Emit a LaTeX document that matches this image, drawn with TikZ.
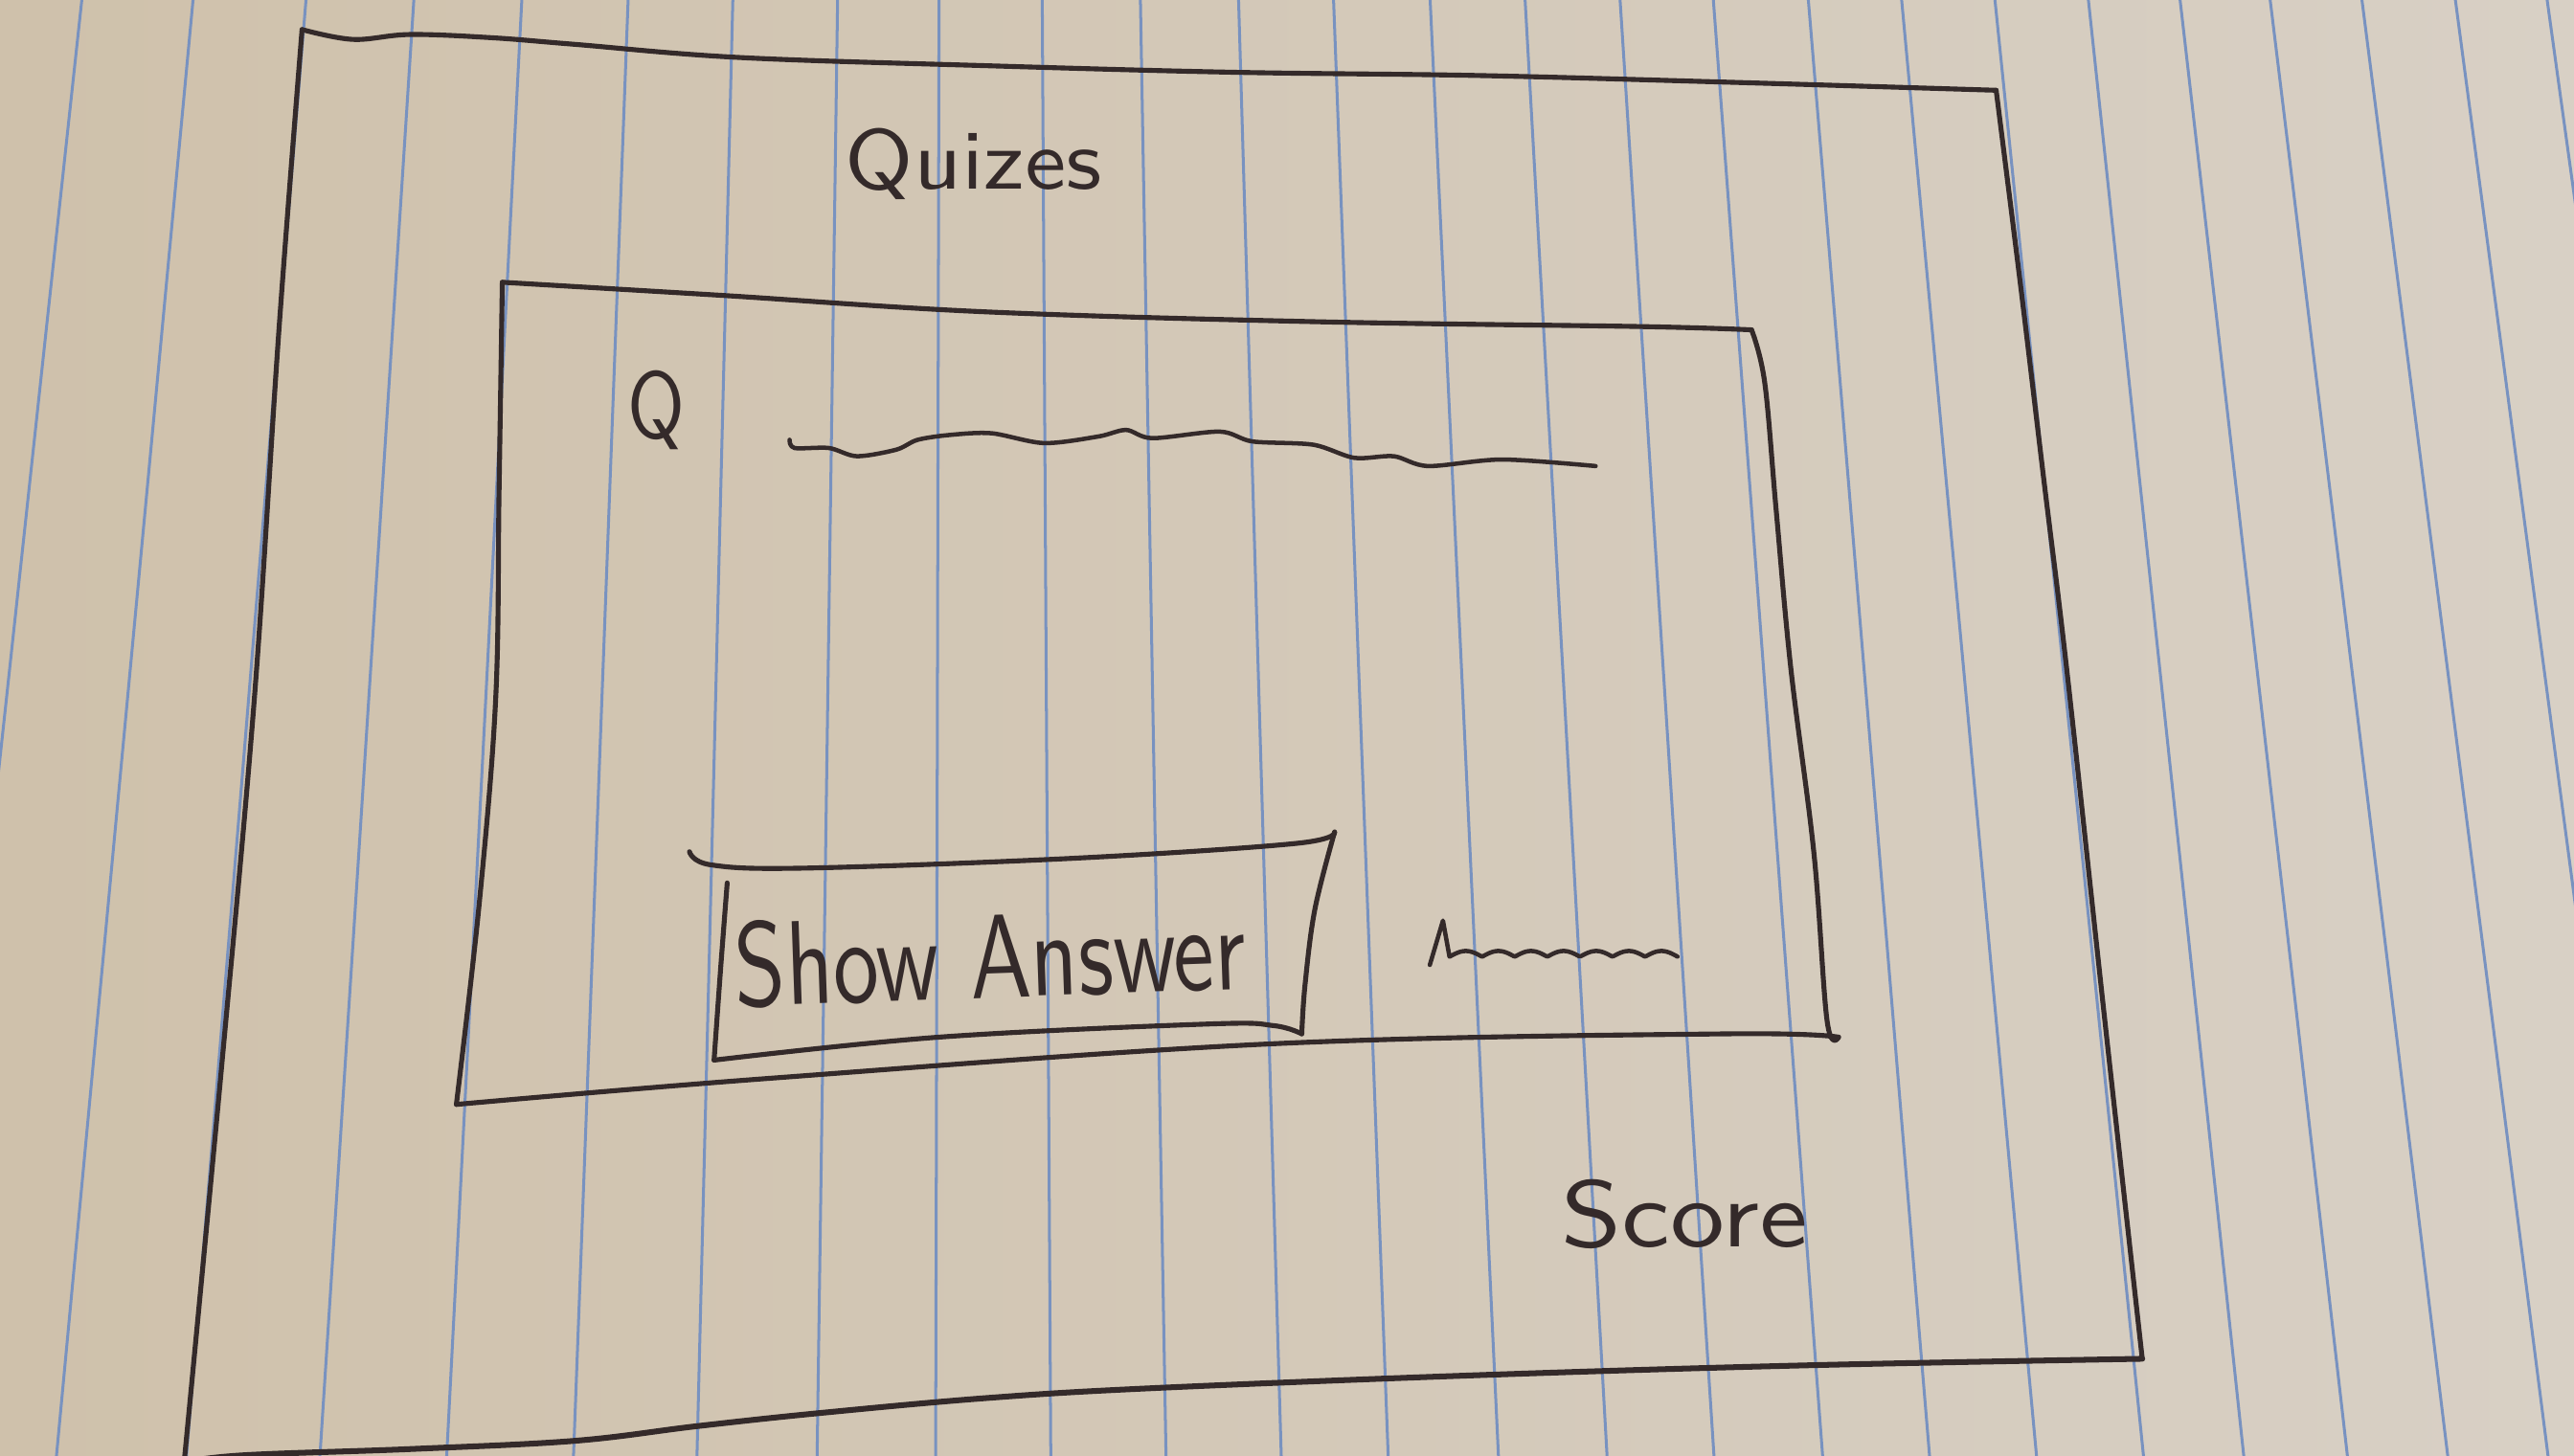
\documentclass[tikz,border=0pt]{standalone}
\usepackage{fontspec}
\definecolor{paperL}{RGB}{207,193,171}
\definecolor{paperR}{RGB}{216,208,197}
\definecolor{ruling}{RGB}{120,146,192}
\definecolor{ink}{RGB}{52,42,42}
\newcommand{\handtext}[3]{\resizebox{#1}{#2}{#3}}
\begin{document}
\begin{tikzpicture}[x=0.01cm,y=-0.01cm,
  pen/.style={draw=ink, line width=0.85pt, line cap=round, line join=round},
  ruleline/.style={draw=ruling, line width=0.5pt, shorten <=-1cm, shorten >=-1cm},
  hand/.style={text=ink, inner sep=0pt, font=\sffamily}]

% sheet of ruled paper
\useasboundingbox (0,0) rectangle (1568,887);
\clip (0,0) rectangle (1568,887);
\shade[left color=paperL, right color=paperR] (0,0) rectangle (1568,887);
\foreach \t/\b in {48/-44, 116/36, 185/115, 251/196, 317/273, 382/350,
                   446/425, 510/498, 572/570, 635/640, 695/710, 755/780,
                   813/845, 872/912, 930/978, 988/1043, 1045/1109,
                   1103/1174, 1160/1239, 1217/1304, 1274/1365, 1330/1428,
                   1385/1489, 1441/1550, 1498/1611, 1554/1672}
  \draw[ruleline] (\t,17) -- (\b,870);

% page frame
\coordinate (pTL) at (184,18);
\coordinate (pTR) at (1216,55);
\coordinate (pBR) at (1305,828);
\draw[pen] plot[smooth, tension=0.6] coordinates {(pTL) (215,24) (250,21) (300,23) (350,27) (450,35) (600,40) (750,44) (900,46) (1050,50) (pTR)};
\draw[pen] plot[smooth, tension=0.6] coordinates {(pTR) (1231,175) (1245,292) (1259,408) (1282,620) (pBR)};
\draw[pen, line width=1pt] plot[smooth, tension=0.6] coordinates {(pBR) (1100,832) (900,838) (700,846) (600,852) (500,861) (425,869) (350,878) (250,883) (145,887) (100,893)};
\draw[pen] plot[smooth, tension=0.6] coordinates {(pTL) (170,200) (155,425) (135,650) (112,893)};

% title
\node[hand, anchor=base] (title) at (593,115) {\handtext{1.56cm}{0.37cm}{Quizes}};

% question card
\coordinate (cTL) at (306,172);
\coordinate (cTR) at (1067,201);
\coordinate (cBR) at (1120,632);
\coordinate (cBL) at (278,673);
\draw[pen] plot[smooth, tension=0.6] coordinates {(cTL) (440,180) (600,190) (800,196) (1000,199) (cTR)};
\draw[pen] plot[smooth, tension=0.6] coordinates {(cTR) (1075,233) (1082,311) (1091,408) (1105,520) (1113,622) (cBR)};
\draw[pen] plot[smooth, tension=0.6] coordinates {(cBL) (470,657) (776,636) (1050,630) (cBR)};
\draw[pen] plot[smooth, tension=0.6] coordinates {(cTL) (304,300) (302,425) (292,550) (cBL)};

% question mark and placeholder line for the question text
\node[hand, anchor=base] (qmark) at (400,267) {\handtext{0.35cm}{0.41cm}{Q}};
\draw[pen, line width=0.75pt] plot[smooth, tension=0.5] coordinates {(481,268) (484,273) (505,273) (522,278) (546,274) (559,268) (579,265) (604,264) (636,270) (669,266) (686,262) (702,267) (743,263) (763,269) (800,271) (825,279) (849,278) (870,284) (915,280) (972,284)};

% "Show Answer" button
\coordinate (bTR) at (813,507);
\coordinate (bBR) at (793,630);
\coordinate (bBL) at (435,646);
\draw[pen] plot[smooth, tension=0.6] coordinates {(420,519) (433,527) (490,529) (654,523) (789,514) (bTR)};
\draw[pen] plot[smooth, tension=0.6] coordinates {(bTR) (801,554) (795,600) (bBR)};
\draw[pen] plot[smooth, tension=0.6] coordinates {(bBR) (776,625) (736,624) (572,632) (bBL)};
\draw[pen] plot[smooth, tension=0.6] coordinates {(443,538) (439,590) (bBL)};
\node[hand, anchor=base, rotate=2] (btnlabel) at (604,608) {\handtext{3.11cm}{0.52cm}{Show Answer}};

% placeholder for the answer text
\coordinate (aStart) at (871,588);
\draw[pen, line width=0.75pt] (aStart) -- (879,561) -- (883,583)
  -- plot[domain=0:1, samples=140] ({883+139*\x},{583-3.5*abs(sin(7*180*\x))});

% score
\node[hand, anchor=base] (score) at (1026,760) {\handtext{1.50cm}{0.41cm}{Score}};
\end{tikzpicture}
\end{document}
